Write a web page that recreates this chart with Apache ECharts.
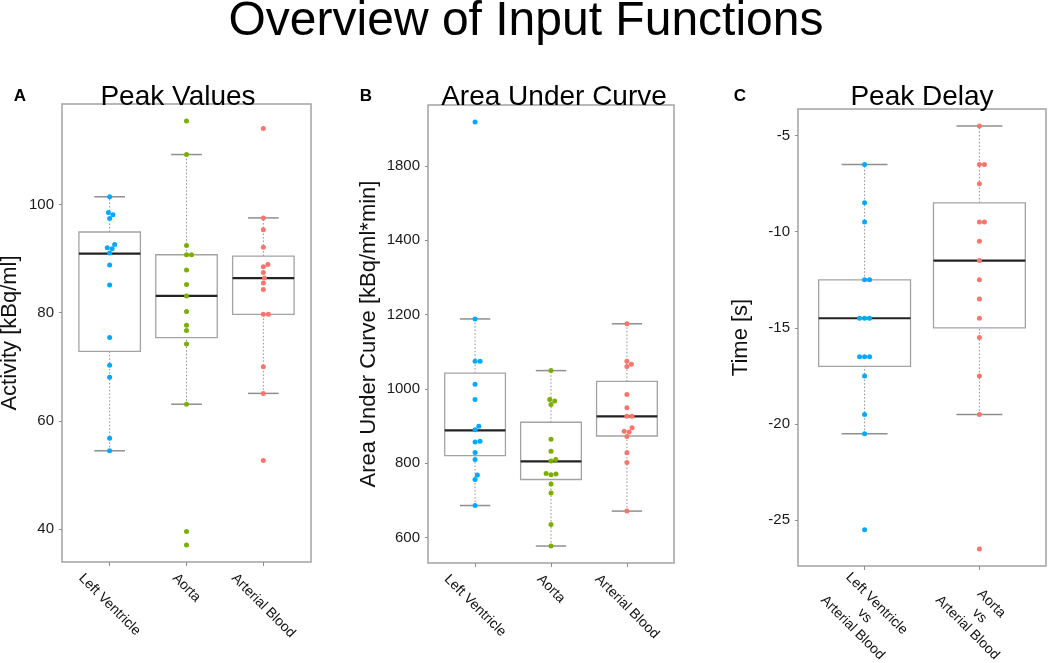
<!DOCTYPE html>
<html>
<head>
<meta charset="utf-8">
<script src="https://cdn.jsdelivr.net/npm/echarts@6/dist/echarts.min.js"></script>
<style>
  html, body { margin: 0; background: #fff; }
  #main { width: 1052px; height: 663px; }
</style>
</head>
<body>
<div id="main"></div>
<script>
var FONT = '"Liberation Sans", Arial, sans-serif';

// categories
var peakCats = ['Left Ventricle', 'Aorta', 'Arterial Blood'];
var delayCats = ['Left Ventricle\nvs\nArterial Blood', 'Aorta\nvs\nArterial Blood'];

// A: peak values [kBq/ml]
var peakLV = [101.4, 98.5, 98.1, 97.4, 92.6, 92.0, 91.8, 91.0, 88.8, 85.1, 75.4, 70.3, 68.1, 56.8, 54.5];
var peakAorta = [115.4, 109.2, 92.4, 90.7, 90.7, 87.9, 85.2, 83.1, 80.2, 77.7, 76.7, 74.2, 63.1, 39.6, 37.1];
var peakAB = [114.0, 97.5, 95.3, 92.1, 88.9, 88.5, 87.4, 86.4, 85.5, 84.3, 79.7, 79.7, 70.0, 65.1, 52.7];
// boxes: [lower whisker, Q1, median, Q3, upper whisker]
var peakBoxes = [
  [54.5, 72.85, 90.9, 94.9, 101.4],
  [63.1, 75.4, 83.1, 90.7, 109.2],
  [65.1, 79.7, 86.4, 90.45, 97.5]
];

// B: area under curve [kBq/ml*min]
var aucLV = [1718, 1188, 1074, 1074, 1012, 971, 899, 890, 859, 857, 829, 810, 768, 756, 686];
var aucAorta = [1049, 971, 967, 958, 864, 832, 810, 806, 772, 771, 769, 744, 720, 635, 577];
var aucAB = [1175, 1074, 1066, 1060, 985, 949, 926, 926, 895, 886, 884, 872, 828, 802, 671];
var aucBoxes = [
  [686, 820, 888, 1042, 1188],
  [577, 756, 805, 910, 1049],
  [671, 873, 926, 1020, 1175]
];

// C: peak delay [s]
var delayLV = [-6.5, -8.5, -9.5, -12.5, -12.5, -14.5, -14.5, -14.5, -16.5, -16.5, -16.5, -17.5, -19.5, -20.5, -25.5];
var delayAorta = [-4.5, -6.5, -6.5, -7.5, -9.5, -9.5, -10.5, -11.5, -12.5, -13.5, -14.5, -15.5, -17.5, -19.5, -26.5];
var delayBoxes = [
  [-20.5, -17.0, -14.5, -12.5, -6.5],
  [-19.5, -15.0, -11.5, -8.5, -4.5]
];

// y tick values and labels
var peakTicks = [40, 60, 80, 100];
var aucTicks = [600, 800, 1000, 1200, 1400, 1600];
var aucTickLabels = ['600', '800', '1000', '1200', '1400', '1800']; // top label as printed in the figure
var delayTicks = [-25, -20, -15, -10, -5];

var blue = '#00A9FF', green = '#7CAE00', red = '#F8766D';

var panels = [
  { letter: 'A', title: 'Peak Values', yName: 'Activity [kBq/ml]', cats: peakCats,
    groups: [peakLV, peakAorta, peakAB], boxes: peakBoxes, colors: [blue, green, red],
    ticks: peakTicks, tickLabels: null,
    grid: { left: 62, top: 104, width: 249, height: 458 }, nameGap: 41, labelGap: 8,
    titleX: 178, letterX: 20 },
  { letter: 'B', title: 'Area Under Curve', yName: 'Area Under Curve [kBq/ml*min]', cats: peakCats,
    groups: [aucLV, aucAorta, aucAB], boxes: aucBoxes, colors: [blue, green, red],
    ticks: aucTicks, tickLabels: aucTickLabels,
    grid: { left: 428, top: 105, width: 246, height: 458 }, nameGap: 48, labelGap: 8,
    titleX: 554, letterX: 366 },
  { letter: 'C', title: 'Peak Delay', yName: 'Time [s]', cats: delayCats,
    groups: [delayLV, delayAorta], boxes: delayBoxes, colors: [blue, red],
    ticks: delayTicks, tickLabels: null,
    grid: { left: 798, top: 109, width: 248, height: 457 }, nameGap: 46, labelGap: 2,
    titleX: 922, letterX: 740 }
];

var ctx = document.createElement('canvas').getContext('2d');
ctx.font = '14px ' + FONT;
function textW(s) {
  return Math.max.apply(null, s.split('\n').map(function (l) { return ctx.measureText(l).width; }));
}

// rotated labels centred under the tick with their tops lined up
function xLabel(p, idx) {
  var lh = 17;
  var want = p.cats.map(function (c) {
    return p.labelGap + (textW(c) + lh * c.split('\n').length) * Math.SQRT1_2 / 2;
  });
  var m = Math.min.apply(null, want);
  var rich = {};
  var pads = want.map(function (w) { return (w - m) * Math.SQRT2; });
  pads.forEach(function (pad, k) {
    rich['c' + k] = { fontSize: 14, lineHeight: lh, fontFamily: FONT, color: '#111', padding: [pad, 0, 0, pad] };
  });
  return {
    customValues: idx, rotate: -45, align: 'center', verticalAlign: 'middle',
    margin: m, fontSize: 14, lineHeight: lh, fontFamily: FONT, color: '#111', rich: rich,
    formatter: function (v) {
      var k = Math.round(v) - 1;
      return pads[k] > 0.5 ? '{c' + k + '|' + p.cats[k] + '}' : p.cats[k];
    }
  };
}

function boxRender(params, api) {
  var x = api.value(0);
  var lo = api.coord([x, api.value(1)]);
  var q1 = api.coord([x, api.value(2)]);
  var md = api.coord([x, api.value(3)]);
  var q3 = api.coord([x, api.value(4)]);
  var hi = api.coord([x, api.value(5)]);
  var bw = api.size([0.8, 0])[0];
  var cx = lo[0];
  var dotted = { stroke: '#8f8f8f', lineWidth: 1, lineDash: [1.5, 2] };
  var cap = { stroke: '#8f8f8f', lineWidth: 1.5 };
  return {
    type: 'group',
    children: [
      { type: 'line', shape: { x1: cx, y1: lo[1], x2: cx, y2: q1[1] }, style: dotted },
      { type: 'line', shape: { x1: cx, y1: q3[1], x2: cx, y2: hi[1] }, style: dotted },
      { type: 'line', shape: { x1: cx - bw / 4, y1: lo[1], x2: cx + bw / 4, y2: lo[1] }, style: cap },
      { type: 'line', shape: { x1: cx - bw / 4, y1: hi[1], x2: cx + bw / 4, y2: hi[1] }, style: cap },
      { type: 'rect', shape: { x: cx - bw / 2, y: q3[1], width: bw, height: q1[1] - q3[1] },
        style: { fill: '#fff', stroke: '#a3a3a3', lineWidth: 1.3 } },
      { type: 'line', shape: { x1: cx - bw / 2, y1: md[1], x2: cx + bw / 2, y2: md[1] },
        style: { stroke: '#222', lineWidth: 2.2 } }
    ]
  };
}

var grids = [], xAxes = [], yAxes = [], series = [], graphics = [];

panels.forEach(function (p, i) {
  var n = p.cats.length;
  var idx = p.cats.map(function (c, k) { return k + 1; });
  var all = [].concat.apply([], p.groups);
  var lo = Math.min.apply(null, all), hi = Math.max.apply(null, all);
  var pad = 0.04 * (hi - lo);

  grids.push(Object.assign({ show: true, borderColor: '#a3a3a3', borderWidth: 1.5, outerBoundsMode: 'none' }, p.grid));

  xAxes.push({
    type: 'value', gridIndex: i, min: 0.5 - 0.04 * n, max: n + 0.5 + 0.04 * n,
    splitLine: { show: false }, axisLine: { show: false },
    axisTick: { show: true, customValues: idx, length: 4, lineStyle: { color: '#8f8f8f', width: 1 } },
    axisLabel: xLabel(p, idx)
  });

  yAxes.push({
    type: 'value', gridIndex: i, min: lo - pad, max: hi + pad,
    splitLine: { show: false }, axisLine: { show: false },
    axisTick: { show: true, customValues: p.ticks, length: 3, lineStyle: { color: '#8f8f8f', width: 1 } },
    axisLabel: {
      customValues: p.ticks, fontSize: 15, fontFamily: FONT, color: '#1a1a1a', margin: 8,
      formatter: function (v) {
        var k = p.ticks.indexOf(Math.round(v));
        return p.tickLabels ? p.tickLabels[k] : String(p.ticks[k]);
      }
    },
    name: p.yName, nameLocation: 'middle', nameGap: p.nameGap,
    nameTextStyle: { fontSize: 22, fontFamily: FONT, color: '#111' }
  });

  series.push({
    type: 'custom', xAxisIndex: i, yAxisIndex: i, z: 1, silent: true,
    encode: { x: 0, y: [1, 2, 3, 4, 5] },
    data: p.boxes.map(function (b, k) { return [k + 1].concat(b); }),
    renderItem: boxRender
  });

  p.groups.forEach(function (vals, k) {
    series.push({
      type: 'scatter', xAxisIndex: i, yAxisIndex: i, z: 3, silent: true,
      symbol: 'circle', symbolSize: 5, itemStyle: { color: p.colors[k], opacity: 1 },
      data: vals.map(function (v) { return [k + 1, v]; })
    });
  });

  graphics.push({
    type: 'text', x: p.titleX, y: 97,
    style: { text: p.title, fontSize: 28, fontFamily: FONT, fill: '#000', align: 'center', verticalAlign: 'middle' }
  });
  graphics.push({
    type: 'text', x: p.letterX, y: 96,
    style: { text: p.letter, fontSize: 17, fontWeight: 'bold', fontFamily: FONT, fill: '#000', align: 'center', verticalAlign: 'middle' }
  });
});

var chart = echarts.init(document.getElementById('main'));
chart.setOption({
  animation: false,
  backgroundColor: '#fff',
  title: {
    text: 'Overview of Input Functions', left: 'center', top: -2, padding: 0,
    textStyle: { fontSize: 48, fontWeight: 'normal', fontFamily: FONT, color: '#000' }
  },
  grid: grids,
  xAxis: xAxes,
  yAxis: yAxes,
  series: series,
  graphic: graphics
});

// beeswarm: spread points with close values sideways, in pixel space
function swarmOffsets(gridIndex, xc, vals, d) {
  var ys = vals.map(function (v) { return chart.convertToPixel({ gridIndex: gridIndex }, [xc, v])[1]; });
  var order = vals.map(function (v, j) { return j; }).sort(function (a, b) { return vals[a] - vals[b]; });
  var placed = [], offs = [];
  order.forEach(function (j) {
    var cands = [0];
    placed.forEach(function (q) {
      var dy = Math.abs(ys[j] - q.y);
      if (dy < d) {
        var dx = Math.sqrt(d * d - dy * dy);
        cands.push(q.x + dx, q.x - dx);
      }
    });
    var ok = cands.filter(function (c) {
      return placed.every(function (q) { return Math.hypot(c - q.x, ys[j] - q.y) >= d - 1e-6; });
    });
    ok.sort(function (a, b) { return Math.abs(a) - Math.abs(b) || b - a; });
    offs[j] = ok[0];
    placed.push({ x: ok[0], y: ys[j] });
  });
  return offs;
}

var newSeries = [];
panels.forEach(function (p, i) {
  var ppu = chart.convertToPixel({ gridIndex: i }, [2, 0])[0] - chart.convertToPixel({ gridIndex: i }, [1, 0])[0];
  newSeries.push({});
  p.groups.forEach(function (vals, k) {
    var offs = swarmOffsets(i, k + 1, vals, 5);
    newSeries.push({ data: vals.map(function (v, j) { return [k + 1 + offs[j] / ppu, v]; }) });
  });
});
chart.setOption({ series: newSeries });

window.addEventListener('resize', function () { chart.resize(); });
</script>
</body>
</html>
